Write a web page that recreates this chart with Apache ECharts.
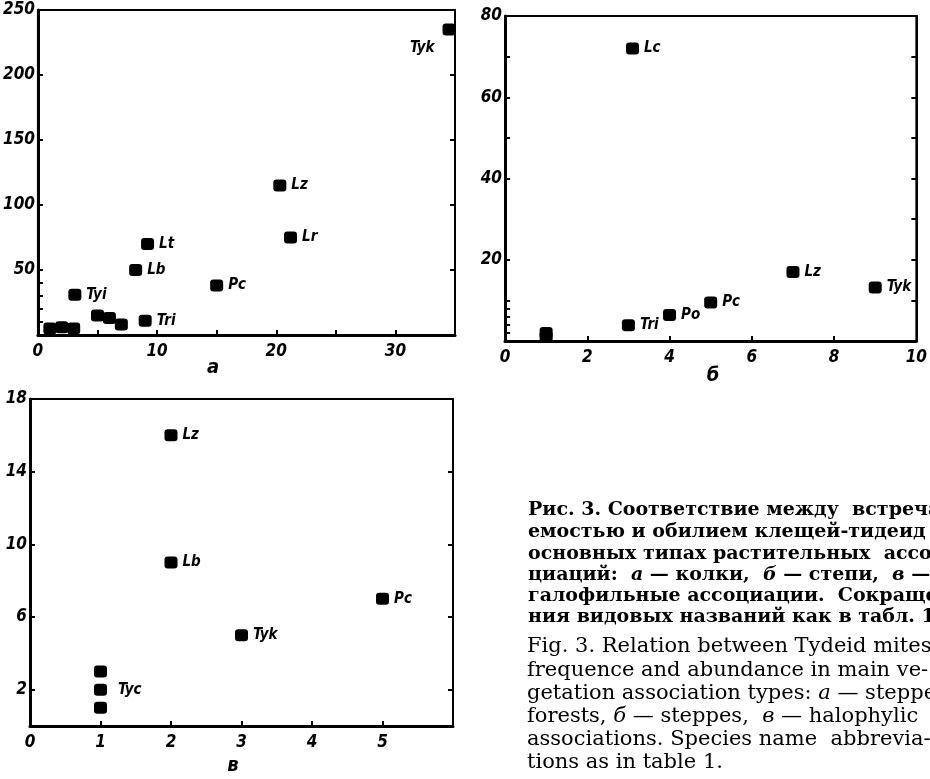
<!DOCTYPE html>
<html>
<head>
<meta charset="utf-8">
<script src="https://cdn.jsdelivr.net/npm/echarts@6.0.0/dist/echarts.min.js"></script>
<style>
html, body { margin: 0; padding: 0; background: #fff; }
#chart { width: 930px; height: 779px; }
</style>
</head>
<body>
<div id="chart"></div>
<script>
// а - колки
var aX = [34.5, 20.3, 21.2, 9.2, 8.2, 15, 3.1, 9, 5, 6, 7, 1, 2, 3];
var aY = [235, 115, 75, 70, 50, 38, 31, 11, 15, 13, 8, 5, 6, 5];
var aNames = ['Tyk', 'Lz', 'Lr', 'Lt', 'Lb', 'Pc', 'Tyi', 'Tri', '', '', '', '', '', ''];
var aXLabels = [0, 10, 20, 30];
var aYLabels = [50, 100, 150, 200, 250];

// б - степи
var bX = [3.1, 7, 9, 5, 4, 3, 1, 1];
var bY = [72, 17, 13.2, 9.5, 6.4, 3.9, 2, 1];
var bNames = ['Lc', 'Lz', 'Tyk', 'Pc', 'Po', 'Tri', '', ''];
var bXLabels = [0, 2, 4, 6, 8, 10];
var bYLabels = [20, 40, 60, 80];

// в - галофильные ассоциации
var cX = [2, 2, 5, 3, 1, 1, 1];
var cY = [16, 9, 7, 5, 3, 2, 1];
var cNames = ['Lz', 'Lb', 'Pc', 'Tyk', '', 'Tyc', ''];
var cXLabels = [0, 1, 2, 3, 4, 5];
var cYLabels = [2, 6, 10, 14, 18];

var captionRu = [
    'Рис. 3. Соответствие между  встреча-',
    'емостью и обилием клещей-тидеид в',
    'основных типах растительных  ассо-',
    'циаций:  {i|а} — колки,  {i|б} — степи,  {i|в} —',
    'галофильные ассоциации.  Сокраще-',
    'ния видовых названий как в табл. 1.'
];
var captionEn = [
    'Fig. 3. Relation between Tydeid mites',
    'frequence and abundance in main ve-',
    'getation association types: {i|a} — steppe',
    'forests, {i|б} — steppes,  {i|в} — halophylic',
    'associations. Species name  abbrevia-',
    'tions as in table 1.'
];

var tickFont = "'Liberation Sans Narrow', 'DejaVu Sans Condensed', sans-serif";
var capFont = "'DejaVu Serif', serif";

var chart = echarts.init(document.getElementById('chart'));

function xAxisFor(gi, max, labels, ticks) {
    return {
        type: 'value', gridIndex: gi, min: 0, max: max,
        axisLine: {show: true, onZero: false, lineStyle: {color: '#000', width: 3}},
        axisTick: {show: true, inside: true, length: 5, customValues: ticks, lineStyle: {color: '#000', width: 2}},
        axisLabel: {
            customValues: labels, color: '#000', margin: 8,
            fontFamily: tickFont, fontStyle: 'italic', fontWeight: 'bold', fontSize: 17
        },
        splitLine: {show: false}
    };
}

function yAxisFor(gi, max, labels, ticks, right) {
    return {
        type: 'value', gridIndex: gi, min: 0, max: max, position: right ? 'right' : 'left',
        axisLine: {show: true, onZero: false, lineStyle: {color: '#000', width: right ? 2 : 3}},
        axisTick: {show: true, inside: true, length: 5, customValues: ticks, lineStyle: {color: '#000', width: 2}},
        axisLabel: {
            show: !right, customValues: labels, color: '#000', margin: 3,
            fontFamily: tickFont, fontStyle: 'italic', fontWeight: 'bold', fontSize: 17
        },
        splitLine: {show: false}
    };
}

// подписи точек, которые стоят не справа
var labelTweaks = {
    'a:Tyk': {position: 'left', distance: 8, offset: [0, 19]},
    'c:Tyc': {distance: 11}
};

function seriesFor(key, gi, xs, ys, names) {
    var data = xs.map(function (x, i) {
        var item = {name: names[i], value: [x, ys[i]]};
        var t = labelTweaks[key + ':' + names[i]];
        if (t) item.label = t;
        return item;
    });
    return {
        type: 'scatter', xAxisIndex: gi, yAxisIndex: gi * 2,
        symbol: 'roundRect', symbolSize: [13, 12],
        itemStyle: {color: '#000', opacity: 1},
        label: {
            show: true, position: 'right', distance: 5, color: '#000',
            fontFamily: tickFont, fontStyle: 'italic', fontWeight: 'bold', fontSize: 15,
            formatter: function (p) { return p.name; }
        },
        data: data,
        silent: true
    };
}

function textEl(txt, x, y, font, extra) {
    var st = {
        text: txt, x: x, y: y, fill: '#000', font: font,
        textAlign: 'left', textVerticalAlign: 'middle'
    };
    if (extra) for (var k in extra) st[k] = extra[k];
    return {type: 'text', style: st, silent: true};
}

var graphics = [];
graphics.push(textEl('а', 213, 368, "italic bold 20px " + tickFont, {textAlign: 'center'}));
graphics.push(textEl('б', 713, 376, "italic bold 20px " + tickFont, {textAlign: 'center'}));
graphics.push(textEl('в', 233, 766, "italic bold 20px " + tickFont, {textAlign: 'center'}));

var ruY = [510, 532, 554, 575, 596, 617];
var enY = [647, 671, 694, 717, 740, 763];
captionRu.forEach(function (line, i) {
    graphics.push(textEl(line, 528, ruY[i], "bold 19px " + capFont,
        {rich: {i: {font: "italic bold 19px " + capFont}}}));
});
captionEn.forEach(function (line, i) {
    graphics.push(textEl(line, 527, enY[i], "21px " + capFont,
        {rich: {i: {font: "italic 21px " + capFont}}}));
});

var option = {
    backgroundColor: '#fff',
    animation: false,
    grid: [
        {left: 34, top: 10, width: 421, height: 325, show: true, borderColor: '#000', borderWidth: 2},
        {left: 505, top: 16, width: 419, height: 325, show: true, borderColor: '#000', borderWidth: 2},
        {left: 30, top: 399, width: 423, height: 327, show: true, borderColor: '#000', borderWidth: 2}
    ],
    xAxis: [
        xAxisFor(0, 35, aXLabels, [5, 10, 15, 20, 25, 30]),
        xAxisFor(1, 10, bXLabels, [2, 4, 6, 8]),
        xAxisFor(2, 6, cXLabels, [1, 2, 3, 4, 5])
    ],
    yAxis: [
        yAxisFor(0, 250, aYLabels, [10, 20, 30, 40, 50, 100, 150, 200], false),
        yAxisFor(0, 250, [], [50, 100, 150, 200], true),
        yAxisFor(1, 80, bYLabels, [2, 4, 6, 8, 10, 20, 40, 50, 60, 70], false),
        yAxisFor(1, 80, [], [10, 20, 30, 40, 50, 60, 70], true),
        yAxisFor(2, 18, cYLabels, [2, 6, 10, 14], false),
        yAxisFor(2, 18, [], [2, 6, 10, 14], true)
    ],
    series: [
        seriesFor('a', 0, aX, aY, aNames),
        seriesFor('b', 1, bX, bY, bNames),
        seriesFor('c', 2, cX, cY, cNames)
    ],
    graphic: graphics
};

chart.setOption(option);
</script>
</body>
</html>
